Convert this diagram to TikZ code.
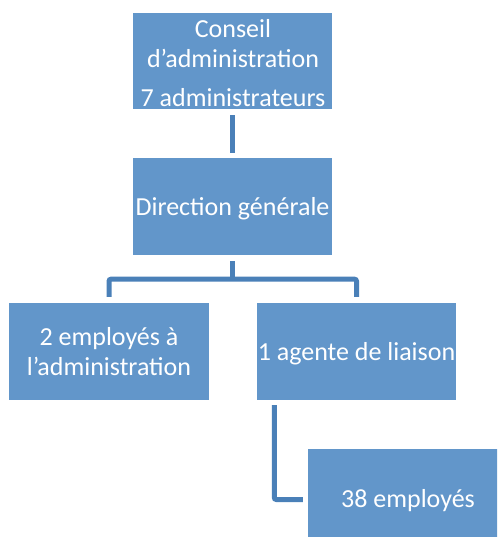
\documentclass[tikz,border=0pt]{standalone}
\usepackage{fontspec}
\setmainfont{Carlito}
\definecolor{boxblue}{HTML}{6296CA}
\definecolor{lineblue}{HTML}{4A80B8}
\tikzset{
  orgbox/.style={rectangle, fill=boxblue, text=white, inner sep=0pt, align=center,
    font=\fontsize{26}{30}\selectfont},
  lowtext/.style={text depth=0pt},
  conn/.style={draw=lineblue, line width=5pt, rounded corners=2pt}
}
\begin{document}
\begin{tikzpicture}[x=1pt,y=-1pt]
\useasboundingbox (0,0) rectangle (497,537);
\clip (0,0) rectangle (497,537);
\node[orgbox, minimum width=199pt, minimum height=96pt] (b1) at (232.5,61) {};
\node[orgbox] (t1) at (233,63) {Conseil\\d’administration\\[9pt]7 administrateurs};
\node[orgbox, lowtext, minimum width=199pt, minimum height=97pt] (b2) at (232.5,206.5) {Direction générale};
\node[orgbox, minimum width=200pt, minimum height=97pt] (b3) at (109,351.5) {2 employés à\\l’administration};
\node[orgbox, lowtext, minimum width=199pt, minimum height=97pt] (b4) at (356.5,351.5) {1 agente de liaison};
\node[orgbox, lowtext, minimum width=200pt, minimum height=98pt] (b5) at (408,498) {38 employés};
\draw[conn] ([yshift=-6pt]b1.south) -- ([yshift=5pt]b2.north);
\draw[conn] ([yshift=-6pt]b2.south) -- ([yshift=-24pt]b2.south);
\draw[conn] ([yshift=6pt]b3.north) |- ([yshift=-24pt]b2.south) -| ([yshift=6pt]b4.north);
\draw[conn] ([xshift=17.5pt,yshift=-5pt]b4.south west) |- ([xshift=-5pt,yshift=-1.5pt]b5.west);
\end{tikzpicture}
\end{document}
